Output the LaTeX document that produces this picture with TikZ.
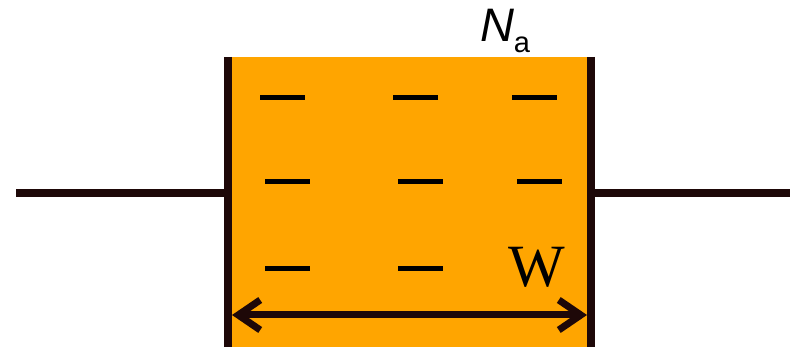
\documentclass[tikz,border=0pt]{standalone}
\usepackage{fontspec}
\setmainfont{Liberation Serif}
\setsansfont{Liberation Sans}
\usetikzlibrary{arrows.meta}
\definecolor{wirecol}{RGB}{30,8,8}
\definecolor{slabcol}{RGB}{255,165,0}

\begin{document}
\begin{tikzpicture}[x=1pt, y=-1pt, line width=8pt, draw=wirecol]
    \useasboundingbox (0,0) rectangle (790,347);

    % Orange slab
    \node[fill=slabcol, minimum width=363pt, minimum height=290pt, inner sep=0pt, outer sep=0pt, anchor=north west] (slab) at (228,57) {};

    % Plates
    \draw (slab.north west) -- (slab.south west);
    \draw (slab.north east) -- (slab.south east);

    % Wires
    \coordinate (leadL) at (16,193);
    \coordinate (leadR) at (790,193);
    \draw (leadL) -- (leadL -| slab.west);
    \draw (leadR) -- (leadR -| slab.east);

    % Charges
    \foreach \x/\y in {260/98, 393/98, 512/98, 265/182, 398/182, 517/182, 265/269, 398/269}
        \draw[line width=5pt, draw=black] (\x,\y) -- ++(45,0);

    % Width W
    \path (slab.south west) ++(4,-32) coordinate (wL);
    \path (slab.south east) ++(-4,-32) coordinate (wR);
    \draw[{Straight Barb[length=22pt, width=30pt]}-{Straight Barb[length=22pt, width=30pt]}, line width=7pt] (wL) -- (wR);
    \node[font=\fontsize{60}{60}\selectfont] (wlab) at (537,267) {W};

    % N_a
    \node[font=\sffamily\fontsize{47}{47}\selectfont, anchor=base west, inner sep=0pt] (nlab) at (476,42) {\textit{N}\raisebox{-11pt}{\fontsize{29}{29}\selectfont a}};

\end{tikzpicture}
\end{document}
